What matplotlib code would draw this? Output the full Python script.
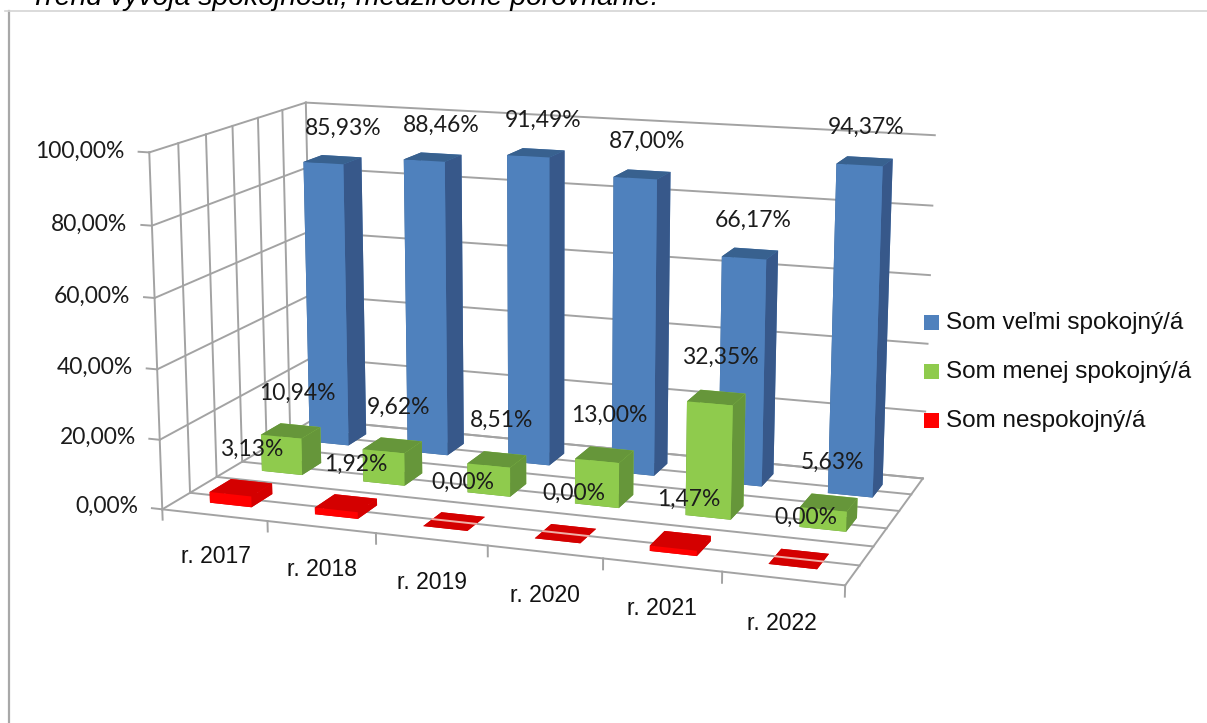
import matplotlib
matplotlib.use('Agg')
import matplotlib.pyplot as plt
from matplotlib.patches import Rectangle

years = ['r. 2017', 'r. 2018', 'r. 2019', 'r. 2020', 'r. 2021', 'r. 2022']
velmi = [85.93, 88.46, 91.49, 87.00, 66.17, 94.37]
menej = [10.94, 9.62, 8.51, 13.00, 32.35, 5.63]
nespok = [3.13, 1.92, 0.00, 0.00, 1.47, 0.00]
yticks = [0, 20, 40, 60, 80, 100]

W, H = 1207.0, 723.0
plt.rcParams['font.family'] = ['Liberation Sans', 'DejaVu Sans']
fig = plt.figure(figsize=(W / 100, H / 100), dpi=100)

# page frame and the cut off heading
fig.add_artist(plt.Line2D([8.5 / W, 8.5 / W], [0, 1 - 11 / H], color='#a8a8a8', lw=1.6))
fig.add_artist(plt.Line2D([5 / W, 1], [1 - 11 / H, 1 - 11 / H], color='#d4d4d4', lw=1.2))
fig.text(30 / W, 1 - 5 / H, 'Trend vývoja spokojnosti, medziročné porovnanie:', style='italic',
         fontsize=20.4, ha='left', va='baseline')

# view fitted against the corners of the reference
L = 833.55
ax = fig.add_axes([122.24 / W, -26.46 / H, L / W, L / H], projection='3d')
ax.set_proj_type('persp', focal_length=0.56)
ax.view_init(elev=13.1, azim=-70.58)
ax.set_box_aspect((1.937, 1.0, 1.004))
ax.set_axis_off()
ax.patch.set_alpha(0)
ax.computed_zorder = False

n = len(years)
ax.set_xlim(0, n)
ax.set_ylim(0, 3)
ax.set_zlim(0, 100)

grid = dict(color='#a3a3a3', lw=1.4, zorder=1)
for z in yticks:
    ax.plot([0, 0], [0, 3], [z, z], **grid)
    ax.plot([0, n], [3, 3], [z, z], **grid)
    ax.plot([-0.1, 0], [0, 0], [z, z], **grid)
for k in range(7):
    d = k * 0.5
    ax.plot([0, n], [d, d], [0, 0], **grid)
    ax.plot([0, 0], [d, d], [0, 100], **grid)
ax.plot([n, n], [0, 3], [0, 0], **grid)
for i in range(n + 1):
    ax.plot([i, i], [0, 0], [0, -3], **grid)

# face colours: bottom, top, front, back, left, right
blue = ['#38618f', '#38618f', '#4f81bd', '#4f81bd', '#38618f', '#37588a']
green = ['#66963a', '#66963a', '#8fcb4d', '#92d050', '#66963a', '#66963a']
red = ['#d40000', '#d40000', '#ff0000', '#ff0000', '#d40000', '#d40000']
# values, row, colours, name, label lift, label shift at first bar, shift per bar
series = [(velmi, 2, blue, 'Som veľmi spokojný/á', 9.5, 0.61, -0.022),
          (menej, 1, green, 'Som menej spokojný/á', 11.5, 0.57, -0.01),
          (nespok, 0, red, 'Som nespokojný/á', 11.5, 0.61, -0.012)]
bw = 0.4
zo = 2
for vals, row, cols, name, off, sx, dx in series:
    for i, v in enumerate(vals):
        ax.bar3d(i + 0.3, row + 0.3, 0, bw, bw, v, color=cols, shade=False, edgecolor='none',
                 zorder=zo)
        zo += 1
        if v == 0:
            ax.plot([i + 0.3, i + 0.7], [row + 0.5, row + 0.5], [0, 0], color='#f0b0a8', lw=1.4, zorder=zo)
            zo += 1
for vals, row, cols, name, off, sx, dx in series:
    for i, v in enumerate(vals):
        ax.text(i + sx + dx * i, row + 0.5, v + off, f'{v:.2f}%'.replace('.', ','), fontsize=16.5, family='Lato',
                ha='center', va='center', color='#1c1c1c', zorder=100)

for z in yticks:
    ax.text(-0.23, 0, z, f'{z:.2f}%'.replace('.', ','), fontsize=16.5, family='Lato', ha='right', va='center',
            color='#1c1c1c', zorder=100)
for i, y in enumerate(years):
    ax.text(i + 0.5, 0, -12, y, fontsize=16.5, ha='center', va='center', color='#111111', zorder=100)

# legend
leg_y = [322.5, 371.5, 420]
for s, y in zip(series, leg_y):
    fig.add_artist(Rectangle((924 / W, 1 - (y + 7.5) / H), 15 / W, 15 / H, color=s[2][2], lw=0,
                             transform=fig.transFigure))
    fig.text(946 / W, 1 - (y + 1) / H, s[3], fontsize=17.5, va='center', ha='left', color='#111111')

fig.savefig('out.png', dpi=100)
